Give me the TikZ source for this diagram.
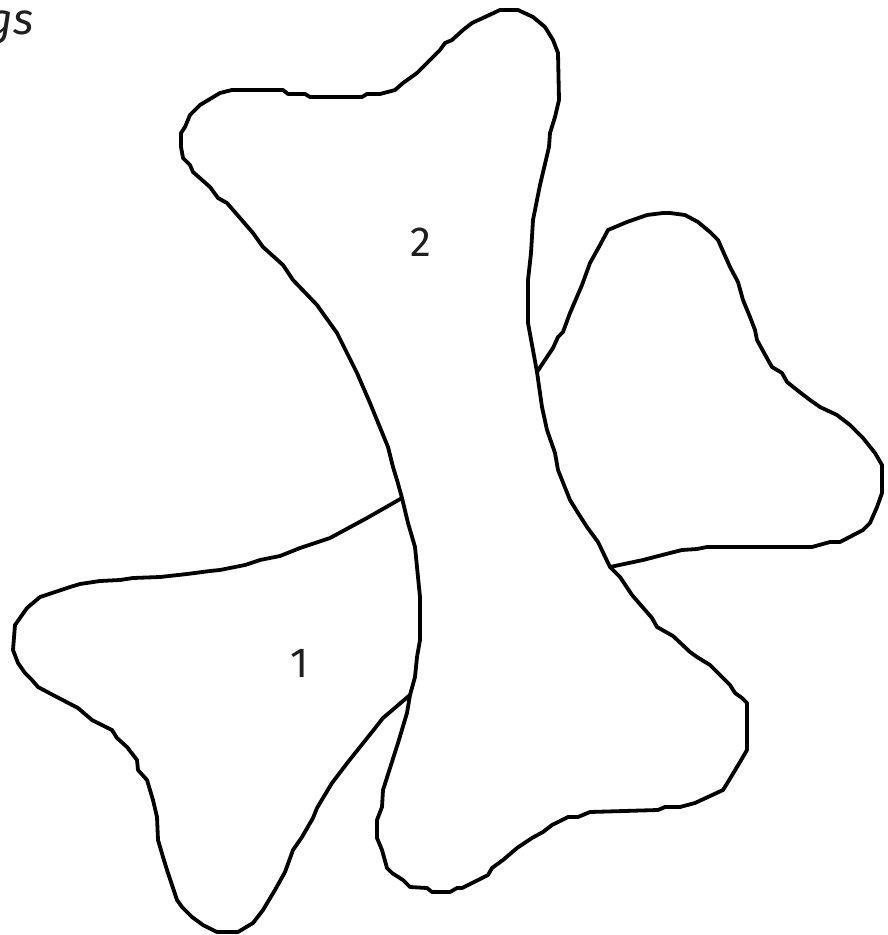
\documentclass[tikz,border=0pt]{standalone}
\usepackage{fontspec}
\newfontfamily\labfont{Fira Sans}
\begin{document}
\begin{tikzpicture}[x=1pt,y=-1pt,
  outline/.style={draw=black,line width=3.8pt,line join=round,line cap=round},
  lab/.style={font=\labfont\fontsize{42}{46}\selectfont,text=black!88,inner sep=0pt}]
\useasboundingbox (0,0) rectangle (888,935);
\clip (0,0) rectangle (888,935);
% shape 2 (bone)
\draw[outline] (181,147) -- (181,133) -- (185,127) -- (190,115) -- (200,105) -- (220,93) -- (232,90) -- (283,90) -- (288,94) -- (305,94) -- (310,97) -- (362,97) -- (367,94) -- (380,94) -- (395,90) -- (403,83) -- (417,73) -- (430,60) -- (440,50) -- (445,43) -- (452,40) -- (463,30) -- (472,23) -- (485,17) -- (500,10) -- (518,10) -- (533,17) -- (545,27) -- (553,40) -- (558,53) -- (559,100) -- (555,117) -- (550,133) -- (549,147) -- (540,185) -- (533,220) -- (531,253) -- (528,280) -- (528,323) -- (537,372) -- (542,407) -- (547,430) -- (555,453) -- (558,470) -- (570,500) -- (578,513) -- (587,527) -- (598,542) -- (610,567) -- (620,577) -- (632,595) -- (652,618) -- (657,627) -- (673,636) -- (690,652) -- (697,657) -- (710,665) -- (730,685) -- (735,693) -- (742,698) -- (747,703) -- (747,750) -- (740,762) -- (728,782) -- (723,790) -- (695,803) -- (680,807) -- (665,807) -- (658,810) -- (590,812) -- (578,817) -- (568,817) -- (552,825) -- (543,832) -- (532,838) -- (517,848) -- (503,860) -- (492,868) -- (488,875) -- (462,888) -- (457,888) -- (450,892) -- (432,892) -- (427,888) -- (410,887) -- (403,880) -- (392,873) -- (387,868) -- (382,850) -- (377,838) -- (377,820) -- (382,807) -- (383,790) -- (398,743) -- (407,713) -- (410,695) -- (415,677) -- (417,657) -- (420,640) -- (420,597) -- (418,577) -- (415,547) -- (408,523) -- (402,498) -- (397,480) -- (393,467) -- (388,447) -- (370,403) -- (357,373) -- (337,333) -- (317,305) -- (293,280) -- (283,265) -- (263,247) -- (253,233) -- (227,203) -- (218,198) -- (210,187) -- (193,172) -- (190,165) -- (183,158) -- cycle;
% shape 1
\draw[outline] (402,498) -- (367,518) -- (330,538) -- (300,548) -- (280,556) -- (260,560) -- (245,565) -- (220,570) -- (210,571) -- (187,574) -- (160,577) -- (133,578) -- (120,580) -- (100,581) -- (80,584) -- (70,587) -- (40,597) -- (27,608) -- (15,625) -- (13,650) -- (18,663) -- (25,673) -- (32,680) -- (38,687) -- (53,695) -- (78,708) -- (92,720) -- (112,730) -- (117,738) -- (127,747) -- (137,760) -- (138,770) -- (147,780) -- (153,800) -- (157,817) -- (158,840) -- (163,857) -- (167,870) -- (172,885) -- (177,900) -- (182,907) -- (192,917) -- (203,925) -- (217,932) -- (238,932) -- (253,923) -- (263,910) -- (275,890) -- (285,872) -- (293,850) -- (302,837) -- (313,818) -- (317,808) -- (332,783) -- (348,762) -- (372,732) -- (383,718) -- (410,695);
% shape 3
\draw[outline] (537,372) -- (553,348) -- (558,337) -- (563,332) -- (570,313) -- (582,285) -- (590,263) -- (600,245) -- (608,230) -- (627,222) -- (647,215) -- (663,213) -- (670,213) -- (685,215) -- (698,222) -- (710,232) -- (718,240) -- (730,267) -- (738,282) -- (743,300) -- (750,317) -- (755,330) -- (757,340) -- (768,360) -- (772,367) -- (782,373) -- (787,382) -- (797,390) -- (810,400) -- (820,407) -- (837,415) -- (850,425) -- (863,438) -- (875,453) -- (882,465) -- (882,493) -- (877,507) -- (870,523) -- (863,530) -- (840,542) -- (830,542) -- (812,547) -- (760,547) -- (707,547) -- (697,549) -- (682,550) -- (670,553) -- (643,560) -- (610,567);
% labels
\node[lab] (two) at (421,242) {2};
\node[lab] (one) at (300,663) {1};
\node[lab,anchor=base east,font=\labfont\itshape\fontsize{44}{48}\selectfont] (title) at (34,34) {gs};
\end{tikzpicture}
\end{document}
